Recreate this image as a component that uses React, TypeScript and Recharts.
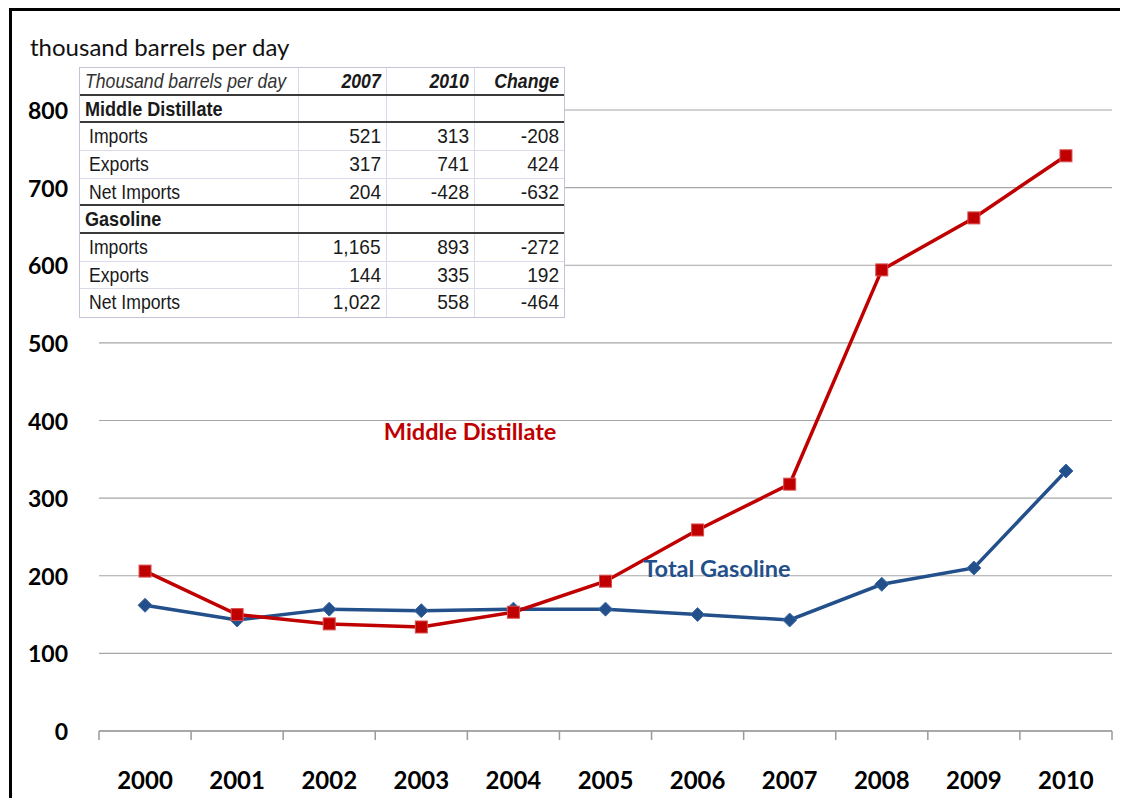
import React from 'react';
import { LineChart, Line, XAxis, YAxis, CartesianGrid, ReferenceDot } from 'recharts';

const years = ['2000', '2001', '2002', '2003', '2004', '2005', '2006', '2007', '2008', '2009', '2010'];
const middleDistillate = [206, 150, 138, 134, 153, 193, 259, 318, 594, 661, 741];
const totalGasoline = [162, 143, 157, 155, 157, 157, 150, 143, 189, 210, 335];
const yTicks = [0, 100, 200, 300, 400, 500, 600, 700, 800];
const boundaryTicks = [-0.5, 0.5, 1.5, 2.5, 3.5, 4.5, 5.5, 6.5, 7.5, 8.5, 9.5, 10.5];
const labelTicks = [0, 1, 2, 3, 4, 5, 6, 7, 8, 9, 10];

const unitLabel = 'thousand barrels per day';
const seriesLabels = ['Middle Distillate', 'Total Gasoline'];
const seriesLabelPos = [
  { x: 3.53, y: 387 },
  { x: 6.21, y: 210 },
];

const tableHeader = ['Thousand barrels per day', '2007', '2010', 'Change'];
const tableSections = ['Middle Distillate', 'Gasoline'];
const rowLabels = ['Imports', 'Exports', 'Net Imports'];
const mdValues = [
  ['521', '313', '-208'],
  ['317', '741', '424'],
  ['204', '-428', '-632'],
];
const gasValues = [
  ['1,165', '893', '-272'],
  ['144', '335', '192'],
  ['1,022', '558', '-464'],
];

const data = years.map((y, i) => ({ idx: i, year: y, md: middleDistillate[i], gas: totalGasoline[i] }));

const RED = '#C00000';
const BLUE = '#23508A';
const FONT = 'Lato, "Open Sans", sans-serif';
const TFONT = '"Liberation Sans Narrow", "Arial Narrow", "Liberation Sans", Arial, sans-serif';

const SquareDot = (props: any) => {
  const { cx, cy } = props;
  if (cx == null || cy == null) return null;
  return <rect x={cx - 6} y={cy - 6} width={12} height={12} fill={RED} stroke="#D85050" strokeWidth={1} />;
};

const DiamondDot = (props: any) => {
  const { cx, cy } = props;
  if (cx == null || cy == null) return null;
  const r = 7;
  return (
    <polygon
      points={`${cx},${cy - r} ${cx + r},${cy} ${cx},${cy + r} ${cx - r},${cy}`}
      fill={BLUE}
      stroke="#3A6AA8"
      strokeWidth={1}
    />
  );
};

const EmptyTick = () => <g />;

const YTick = (props: any) => {
  const { x, y, payload } = props;
  return (
    <text x={x} y={y} textAnchor="end" dominantBaseline="central" fontFamily={FONT} fontWeight={700} fontSize={23} fill="#000">
      {payload.value}
    </text>
  );
};

const XLabelTick = (props: any) => {
  const { x, y, payload } = props;
  return (
    <text x={x} y={y + 38} textAnchor="middle" dominantBaseline="central" fontFamily={FONT} fontWeight={700} fontSize={24} fill="#000">
      {years[payload.value]}
    </text>
  );
};

const makeLabel = (text: string, color: string) => (props: any) => {
  const { viewBox } = props;
  return (
    <text x={viewBox.x} y={viewBox.y} textAnchor="middle" dominantBaseline="central" fontFamily={FONT} fontWeight={700} fontSize={23.5} fill={color}>
      {text}
    </text>
  );
};

const colW = [219, 88, 88, 89];
const rowH = 27.67;
const thickAfter = [0, 1, 4, 5];

const Table = () => {
  const rows: { cells: string[]; kind: 'header' | 'section' | 'data' }[] = [];
  rows.push({ cells: tableHeader, kind: 'header' });
  rows.push({ cells: [tableSections[0], '', '', ''], kind: 'section' });
  rowLabels.forEach((l, i) => rows.push({ cells: [l, ...mdValues[i]], kind: 'data' }));
  rows.push({ cells: [tableSections[1], '', '', ''], kind: 'section' });
  rowLabels.forEach((l, i) => rows.push({ cells: [l, ...gasValues[i]], kind: 'data' }));
  return (
    <div
      style={{
        position: 'absolute',
        left: 71,
        top: 59,
        width: colW.reduce((a, b) => a + b, 0),
        background: '#fff',
        border: '1px solid #C4C4D6',
        boxSizing: 'content-box',
        fontFamily: TFONT,
        fontSize: 21,
        color: '#1a1a1a',
      }}
    >
      {rows.map((r, ri) => (
        <div key={ri} style={{ display: 'flex', height: rowH, boxSizing: 'border-box', borderBottom: ri === rows.length - 1 ? 'none' : thickAfter.includes(ri) ? '2px solid #3a3a3a' : '1px solid #DADAEA' }}>
          {r.cells.map((c, ci) => {
            const isBold = r.kind === 'section' || (r.kind === 'header' && ci > 0);
            const scale = ci === 0 ? (isBold ? 0.86 : 0.84) : r.kind === 'header' ? 0.84 : 0.91;
            return (
              <div
                key={ci}
                style={{
                  width: colW[ci],
                  boxSizing: 'border-box',
                  borderRight: ci < 3 ? '1px solid #DADAEA' : 'none',
                  textAlign: ci === 0 ? 'left' : 'right',
                  paddingLeft: ci === 0 ? (r.kind === 'data' ? 9 : 5) : 0,
                  paddingRight: ci === 0 ? 0 : 5,
                  lineHeight: `${rowH - 2}px`,
                  whiteSpace: 'nowrap',
                  overflow: 'visible',
                  fontStyle: r.kind === 'header' ? 'italic' : 'normal',
                  fontWeight: isBold ? 700 : 400,
                  color: r.kind === 'header' && ci === 0 ? '#333' : '#1a1a1a',
                }}
              >
                <span
                  style={{
                    display: 'inline-block',
                    transform: `scaleX(${scale})`,
                    transformOrigin: ci === 0 ? 'left center' : 'right center',
                  }}
                >
                  {c}
                </span>
              </div>
            );
          })}
        </div>
      ))}
    </div>
  );
};

export default function App() {
  return (
    <div style={{ position: 'relative', width: 1120, height: 790 }}>
      <style>{`html,body{overflow:hidden;}`}</style>
      <LineChart width={1120} height={800} data={data} margin={{ top: 102, right: 16, bottom: 17, left: 0 }}>
        <CartesianGrid vertical={false} stroke="#A6A6A6" strokeWidth={1.2} yAxisId="y" xAxisId="grid" />
        <XAxis
          xAxisId="grid"
          dataKey="idx"
          type="number"
          domain={[-0.5, 10.5]}
          ticks={boundaryTicks}
          interval={0}
          tick={EmptyTick}
          tickSize={9}
          tickLine={{ stroke: '#9A9A9A', strokeWidth: 1.5 }}
          axisLine={{ stroke: '#9A9A9A', strokeWidth: 1.5 }}
          height={10}
        />
        <XAxis
          xAxisId="lbl"
          dataKey="idx"
          type="number"
          domain={[-0.5, 10.5]}
          ticks={labelTicks}
          interval={0}
          tick={<XLabelTick />}
          tickLine={false}
          axisLine={false}
          tickSize={0}
          tickMargin={0}
          height={50}
        />
        <YAxis
          yAxisId="y"
          domain={[0, 800]}
          ticks={yTicks}
          interval={0}
          width={91}
          axisLine={false}
          tickLine={false}
          tickSize={0}
          tickMargin={31}
          tick={<YTick />}
        />
        <Line
          xAxisId="grid"
          yAxisId="y"
          dataKey="gas"
          stroke={BLUE}
          strokeWidth={3.5}
          dot={<DiamondDot />}
          activeDot={false}
          isAnimationActive={false}
        />
        <Line
          xAxisId="grid"
          yAxisId="y"
          dataKey="md"
          stroke={RED}
          strokeWidth={3.5}
          dot={<SquareDot />}
          activeDot={false}
          isAnimationActive={false}
        />
        <ReferenceDot xAxisId="grid" yAxisId="y" x={seriesLabelPos[0].x} y={seriesLabelPos[0].y} r={0} stroke="none" fill="none" label={makeLabel(seriesLabels[0], RED)} />
        <ReferenceDot xAxisId="grid" yAxisId="y" x={seriesLabelPos[1].x} y={seriesLabelPos[1].y} r={0} stroke="none" fill="none" label={makeLabel(seriesLabels[1], BLUE)} />
      </LineChart>
      <div
        style={{
          position: 'absolute',
          left: 22,
          top: 25,
          fontFamily: FONT,
          fontSize: 24,
          color: '#111',
          whiteSpace: 'nowrap',
          lineHeight: '28px',
        }}
      >
        {unitLabel}
      </div>
      <Table />
      <div
        style={{
          position: 'absolute',
          left: 1,
          top: 0,
          width: 1200,
          height: 900,
          borderTop: '3px solid #000',
          borderLeft: '3px solid #000',
          pointerEvents: 'none',
        }}
      />
    </div>
  );
}
